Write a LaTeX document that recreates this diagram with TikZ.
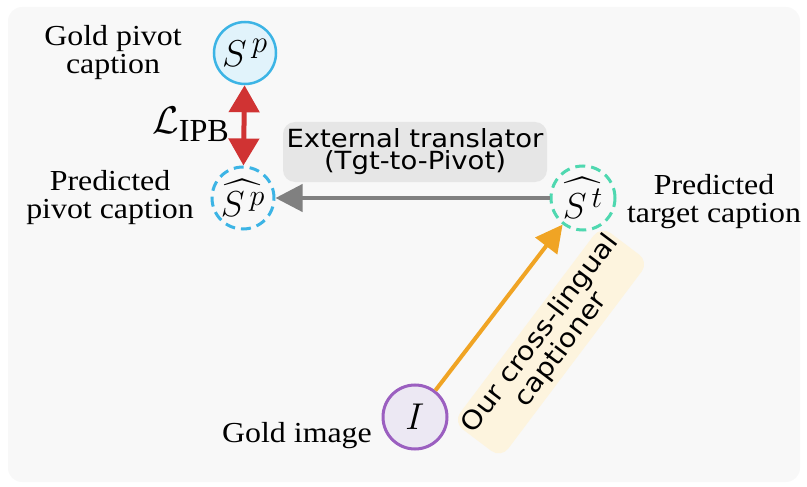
\documentclass[tikz,border=0pt]{standalone}
\usepackage{exscale}
\usepackage{fontspec}
\setmainfont{Liberation Serif}
\newfontfamily\lblfont[FakeStretch=1.1]{Liberation Serif}
\newfontfamily\handfont[FakeStretch=1.1]{DejaVu Sans}
\usetikzlibrary{arrows.meta}
\newcommand\mymath[2]{\scalebox{#1}{\fontsize{24.88}{30}\selectfont$#2$}}
\definecolor{bgc}{HTML}{F8F8F8}
\definecolor{skyc}{HTML}{3CB4E5}
\definecolor{skyfill}{HTML}{E1F3FB}
\definecolor{mintc}{HTML}{4FD8B0}
\definecolor{purc}{HTML}{9B5FC0}
\definecolor{purfill}{HTML}{ECE8F3}
\definecolor{redc}{HTML}{D03333}
\definecolor{grayc}{HTML}{808080}
\definecolor{orgc}{HTML}{F0A424}
\definecolor{trfill}{HTML}{E6E6E6}
\definecolor{capfill}{HTML}{FDF4DE}
\tikzset{
  lbl/.style={font=\lblfont\fontsize{29}{28}\selectfont, align=center, inner sep=0pt},
  mnode/.style={circle, minimum size=62pt, inner sep=0pt, line width=2.5pt},
  dashnode/.style={mnode, dash pattern=on 10pt off 6pt, line width=3pt},
  hand/.style={font=\handfont\fontsize{25}{22}\selectfont, align=center, rounded corners=12pt, inner sep=2pt},
  bigtip/.style={line width=4pt, -{Triangle[length=27pt,width=27pt]}}
}
\begin{document}
\begin{tikzpicture}[x=1pt,y=-1pt]
\useasboundingbox (0,0) rectangle (807,487);
\fill[bgc, rounded corners=14pt] (8,7) rectangle (800,482);

% nodes
\node[mnode, draw=skyc, fill=skyfill] (gs) at (245,53) {\mymath{1.5}{S^{\,p}}};
\node[dashnode, draw=skyc] (hsp) at (243,198) {\raisebox{-3pt}{\mymath{1.45}{\widehat{S^{\,p}}}}};
\node[dashnode, draw=mintc, minimum size=64pt] (hst) at (583,198) {\raisebox{-3pt}{\mymath{1.45}{\widehat{S^{\,t}}}}};
\node[mnode, draw=purc, fill=purfill, line width=3pt, minimum size=64pt] (img) at (415,417) {\mymath{1.5}{I}};

% labels
\node[lbl] (gpl) at (113,53) {Gold pivot\\caption};
\node[lbl] (ppl) at (110,198) {Predicted\\pivot caption};
\node[lbl] (ptl) at (714,202) {Predicted\\target caption};
\node[lbl, anchor=base] (gil) at (297,442) {Gold image};
\node (loss) at (191,124) {\mymath{1.55}{\mathcal{L}_{\mathrm{IPB}}}};

% boxes
\node[hand, fill=trfill, minimum width=264pt, minimum height=60pt] (tr) at (415,152) {External translator\\(Tgt-to-Pivot)};
\node[hand, fill=capfill, minimum width=245pt, minimum height=60pt, rotate=53, font=\handfont\fontsize{26}{23}\selectfont] (cap) at (551,342) {Our cross-lingual\\captioner};

% connectors
\draw[redc, line width=5pt, {Triangle[length=27pt,width=30pt]}-{Triangle[length=27pt,width=30pt]}] (gs) -- (hsp);
\draw[grayc, bigtip] (hst) -- (hsp);
\draw[orgc, bigtip] (img) -- (hst);
\end{tikzpicture}
\end{document}
